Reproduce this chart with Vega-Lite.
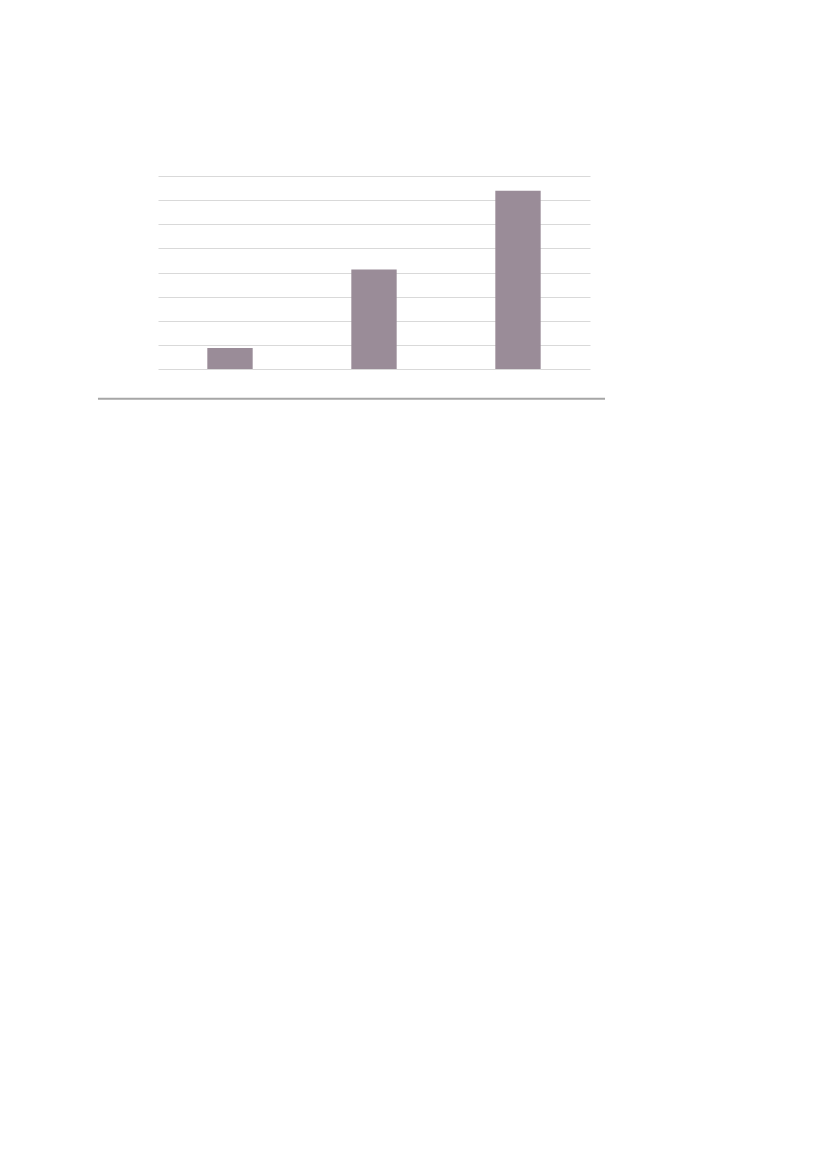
{
  "$schema": "https://vega.github.io/schema/vega-lite/v6.json",
  "description": "Three bars on a light grid with a separator line underneath.",
  "autosize": "none",
  "padding": {"left": 158, "top": 176, "right": 237, "bottom": 800},
  "width": 432,
  "height": 193,
  "background": "white",
  "config": {"view": {"stroke": null}},
  "encoding": {
    "y": {
      "field": "value",
      "type": "quantitative",
      "scale": {"domain": [0, 8], "nice": false},
      "axis": {
        "values": [0, 1, 2, 3, 4, 5, 6, 7, 8],
        "grid": true,
        "gridColor": "#d9d9d9",
        "gridWidth": 1,
        "domain": false,
        "ticks": false,
        "labels": false,
        "title": null
      }
    }
  },
  "layer": [
    {
      "data": {"values": [
        {"category": "A", "value": 0.87},
        {"category": "B", "value": 4.12},
        {"category": "C", "value": 7.39}
      ]},
      "mark": {"type": "bar", "color": "#9a8c98"},
      "encoding": {
        "x": {
          "field": "category",
          "type": "nominal",
          "sort": null,
          "axis": null,
          "scale": {"paddingInner": 0.685, "paddingOuter": 0.3425}
        }
      }
    },
    {
      "data": {"values": [{"start": 0, "end": 1, "value": -1.23}]},
      "mark": {"type": "rule", "color": "#a6a6a6", "strokeWidth": 2},
      "encoding": {
        "x": {
          "field": "start",
          "type": "quantitative",
          "scale": {"domain": [0.1184, 0.9704], "nice": false, "zero": false},
          "axis": null
        },
        "x2": {"field": "end"}
      }
    }
  ],
  "resolve": {"scale": {"x": "independent"}}
}
